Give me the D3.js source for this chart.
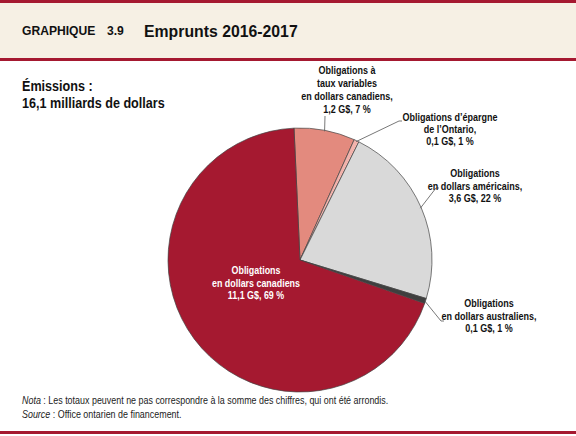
<!DOCTYPE html>
<html>
<head>
<meta charset="utf-8">
<script src="https://cdn.jsdelivr.net/npm/d3@7"></script>
<style>
  body { margin: 0; background: #fff; }
  svg { display: block; }
  text { font-family: "Liberation Sans", Arial, sans-serif; }
</style>
</head>
<body>
<svg id="chart" width="576" height="436"></svg>
<script>
// slices, clockwise from just left of 12 o'clock
var categories = ["variables", "epargne", "americains", "australiens", "canadiens"];
var values = [1.2, 0.1, 3.6, 0.1, 11.1];
var percents = [7, 1, 22, 1, 69];
var labelLines = [
	["Obligations à", "taux variables", "en dollars canadiens,", "1,2 G$, 7 %"],
	["Obligations d’épargne", "de l’Ontario,", "0,1 G$, 1 %"],
	["Obligations", "en dollars américains,", "3,6 G$, 22 %"],
	["Obligations", "en dollars australiens,", "0,1 G$, 1 %"],
	["Obligations", "en dollars canadiens", "11,1 G$, 69 %"]
];
var colors = ["#E38A7E", "#F2B3AC", "#D9D9D9", "#3F3F3F", "#A51930"];

var svg = d3.select('#chart');
var W = 576, H = 436;

// narrow-ish text: no condensed font here, so squeeze horizontally
function addText(x, y, size, sx, anchor){
	return svg.append('g')
		.attr('transform', 'translate(' + x + ',' + y + ') scale(' + sx + ',1)')
		.append('text')
		.attr('x', 0).attr('y', 0)
		.attr('font-size', size)
		.attr('text-anchor', anchor || 'start');
}

// header band
svg.append('rect').attr('x', 0).attr('y', 0).attr('width', W).attr('height', 60).attr('fill', '#F6F0E4');
svg.append('rect').attr('x', 0).attr('y', 0).attr('width', W).attr('height', 3).attr('fill', '#A51930');
svg.append('rect').attr('x', 0).attr('y', 58).attr('width', W).attr('height', 3).attr('fill', '#A51930');
svg.append('rect').attr('x', 0).attr('y', 431).attr('width', W).attr('height', 3).attr('fill', '#A51930');

addText(22, 34.5, 12.5, 0.97).attr('font-weight', 'bold').attr('fill', '#111').text('GRAPHIQUE');
addText(107, 34.5, 12.5, 0.97).attr('font-weight', 'bold').attr('fill', '#111').text('3.9');
addText(144, 37, 17, 0.93).attr('font-weight', 'bold').attr('fill', '#111').text('Emprunts 2016-2017');

addText(22, 90.5, 14, 0.9).attr('font-weight', 'bold').attr('fill', '#111').text('Émissions :');
addText(22, 108, 14, 0.9).attr('font-weight', 'bold').attr('fill', '#111').text('16,1 milliards de dollars');

// pie
var cx = 300, cy = 260, r = 132;
var start = -2.6 * Math.PI / 180;
var pie = d3.pie().sort(null).startAngle(start).endAngle(start + 2 * Math.PI);
var arcs = pie(values);
var arc = d3.arc().innerRadius(0).outerRadius(r);

var g = svg.append('g').attr('transform', 'translate(' + cx + ',' + cy + ')');
g.selectAll('path')
	.data(arcs)
	.enter()
	.append('path')
	.attr('d', arc)
	.attr('fill', function(d, i){ return colors[i]; })
	.attr('stroke', '#444')
	.attr('stroke-width', 0.7);

// outside labels: centre of text block + leader end point
var labelPos = [
	{x: 347, y: 74, gap: 13, pts: [[325, 116]]},
	{x: 450, y: 121, gap: 12, pts: [[399, 121], [402, 121]]},
	{x: 475, y: 177, gap: 12.5, pts: [[436, 188], [439, 188]]},
	{x: 489, y: 307, gap: 12.5, pts: [[441, 321], [444, 321]]}
];

function edgePoint(d, rr){
	var a = d.startAngle + (d.endAngle - d.startAngle) / 2;
	return [cx + rr * Math.sin(a), cy - rr * Math.cos(a)];
}

var leader = d3.line();
labelPos.forEach(function(p, i){
	var e = edgePoint(arcs[i], r - 1);
	svg.append('path')
		.attr('d', leader([e].concat(p.pts)))
		.attr('fill', 'none')
		.attr('stroke', '#555').attr('stroke-width', 0.8);
	labelLines[i].forEach(function(s, k){
		addText(p.x, p.y + k * p.gap, 10, 0.9, 'middle')
			.attr('font-weight', 'bold').attr('fill', '#111').text(s);
	});
});

// big slice label inside
labelLines[4].forEach(function(s, k){
	addText(256, 274 + k * 12.5, 10, 0.89, 'middle')
		.attr('font-weight', 'bold').attr('fill', '#fff').text(s);
});

// notes
var nota = addText(22, 404, 10.2, 0.875).attr('fill', '#222');
nota.append('tspan').attr('font-style', 'italic').text('Nota');
nota.append('tspan').text(' : Les totaux peuvent ne pas correspondre à la somme des chiffres, qui ont été arrondis.');
var src = addText(22, 418, 10.2, 0.875).attr('fill', '#222');
src.append('tspan').attr('font-style', 'italic').text('Source');
src.append('tspan').text(' : Office ontarien de financement.');
</script>
</body>
</html>
